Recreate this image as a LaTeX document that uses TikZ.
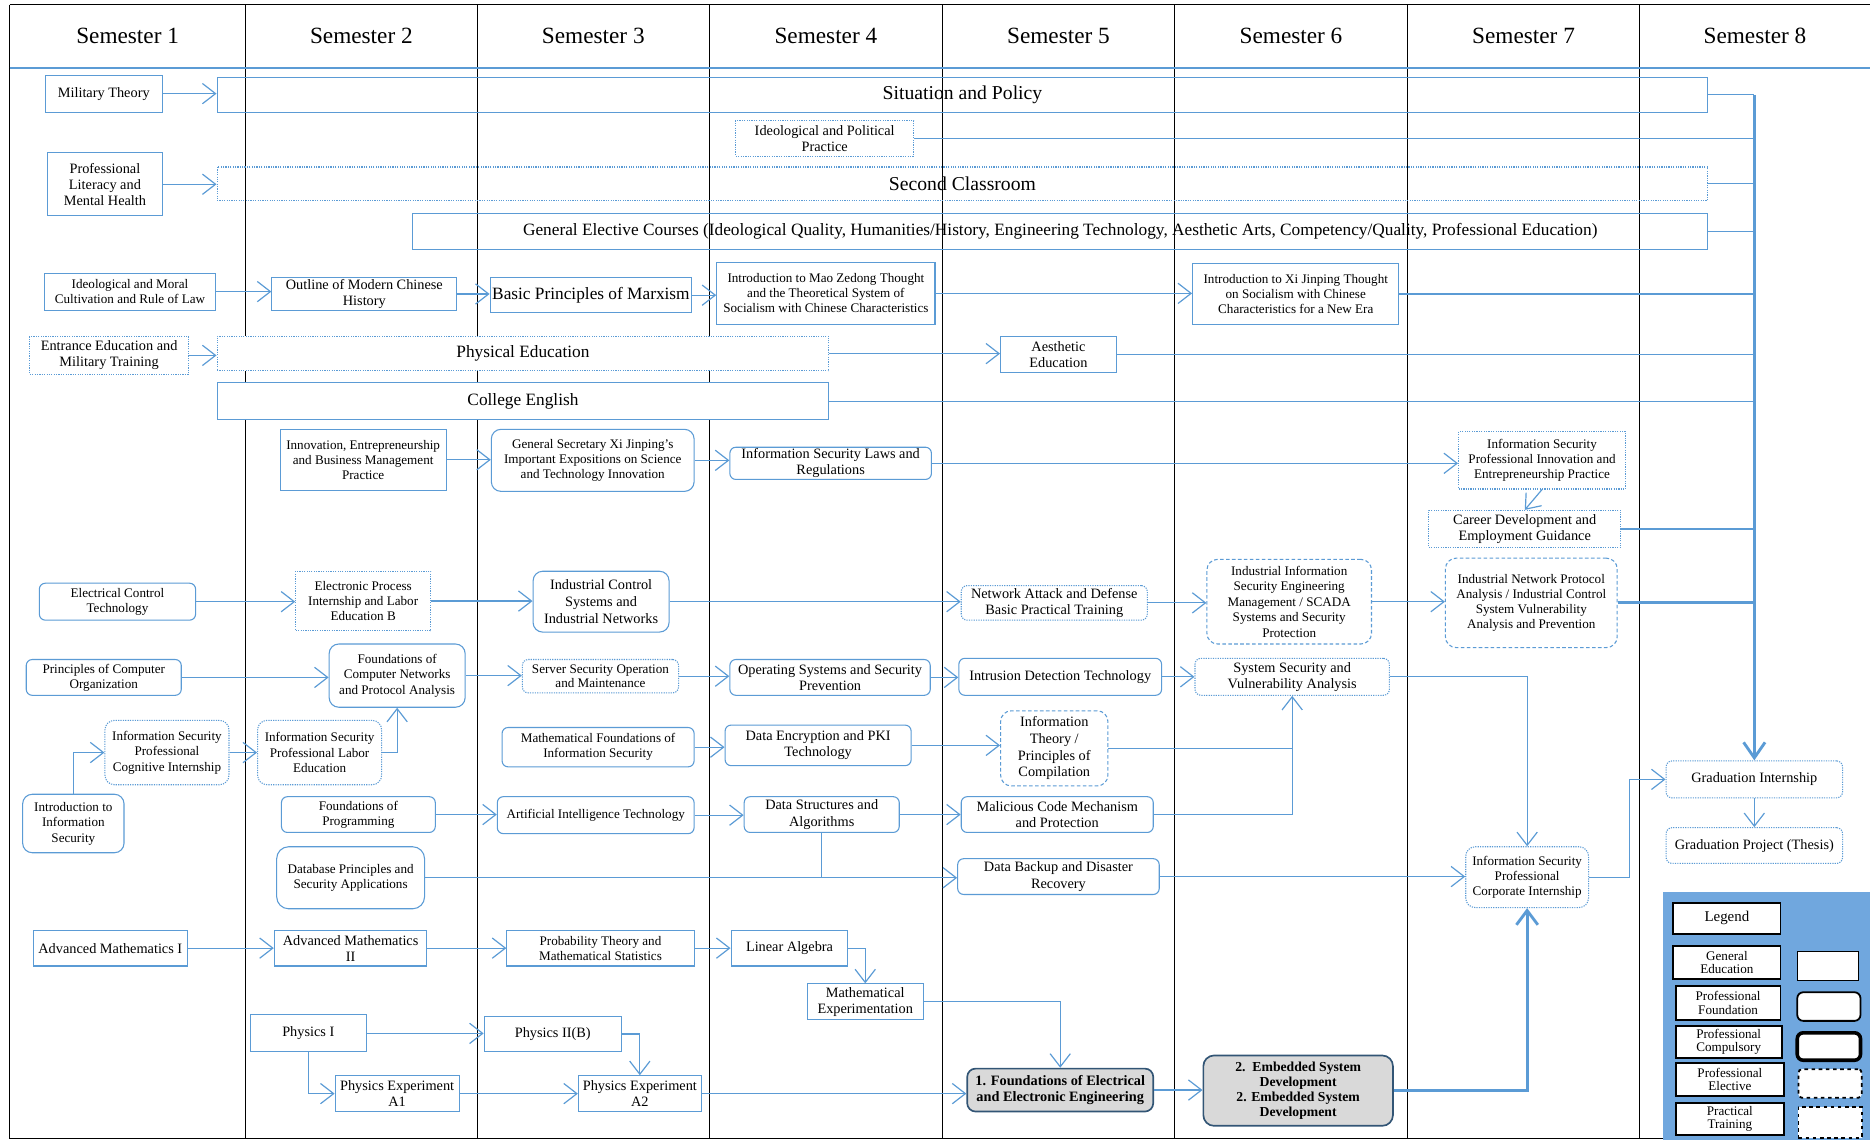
\documentclass[tikz,border=0pt]{standalone}
\usepackage{fontspec}
\setmainfont{Liberation Serif}
\usepackage{tikz}
\usetikzlibrary{arrows.meta}
\definecolor{lineblue}{RGB}{91,155,213}
\definecolor{legblue}{RGB}{112,167,222}
\definecolor{compgray}{RGB}{217,217,217}
\tikzstyle{plan}=[x=1pt, y=-1pt, font=\fontsize{11}{12.5}\selectfont]
\tikzstyle{gen}=[rectangle, draw=lineblue, line width=0.9pt, fill=white, align=center, inner sep=1pt]
\tikzstyle{found}=[gen, rounded corners=5pt]
\tikzstyle{comp}=[found, draw=lineblue!55!black, line width=1.4pt, fill=compgray, rounded corners=7pt]
\tikzstyle{elec}=[found, dash pattern=on 3pt off 2pt, rounded corners=9pt]
\tikzstyle{prac}=[gen, dash pattern=on 1pt off 1pt]
\tikzstyle{pracr}=[found, dash pattern=on 1pt off 1pt]
\tikzstyle{mid}=[font=\fontsize{12}{13.5}\selectfont]
\tikzstyle{wide}=[font=\fontsize{14.5}{16}\selectfont]
\tikzstyle{huge}=[font=\fontsize{16.5}{18}\selectfont]
\tikzstyle{sem}=[font=\fontsize{19.5}{22}\selectfont]
\tikzstyle{flow}=[draw=lineblue, line width=1pt, -{Straight Barb[length=11pt,width=17pt]}]
\tikzstyle{feed}=[draw=lineblue, line width=1pt]
\tikzstyle{trunk}=[draw=lineblue, line width=2.4pt]
\tikzstyle{leg}=[rectangle, draw=black, line width=1.5pt, fill=white, align=center, inner sep=1pt, font=\fontsize{11}{11}\selectfont]
\tikzstyle{swatch}=[rectangle, draw=black, fill=white, minimum width=53pt, minimum height=24pt]

\begin{document}
\begin{tikzpicture}[plan]
\useasboundingbox (0,0) rectangle (1568,956);

% frame and semester columns
\draw[black, line width=0.8pt] (8,4) -- (1568,4);
\draw[black, line width=0.8pt] (8,4) -- (8,955) -- (1394,955);
\draw[black, line width=0.8pt] (206,4) -- (206,955);
\draw[black, line width=0.8pt] (400,4) -- (400,955);
\draw[black, line width=0.8pt] (595,4) -- (595,955);
\draw[black, line width=0.8pt] (790,4) -- (790,955);
\draw[black, line width=0.8pt] (985,4) -- (985,955);
\draw[black, line width=0.8pt] (1180,4) -- (1180,955);
\draw[black, line width=0.8pt] (1375,4) -- (1375,955);
\draw[lineblue, line width=0.9pt] (8,57) -- (1568,57);

\draw (107,30) node[sem] (sem1) {Semester 1};
\draw (303,30) node[sem] (sem2) {Semester 2};
\draw (497.5,30) node[sem] (sem3) {Semester 3};
\draw (692.5,30) node[sem] (sem4) {Semester 4};
\draw (887.5,30) node[sem] (sem5) {Semester 5};
\draw (1082.5,30) node[sem] (sem6) {Semester 6};
\draw (1277.5,30) node[sem] (sem7) {Semester 7};
\draw (1471.5,30) node[sem] (sem8) {Semester 8};

% general education
\draw (87,78.5) node[gen, mid, minimum width=98pt, minimum height=31pt] (milt) {Military Theory};
\draw (807,79.5) node[gen, huge, fill=none, minimum width=1250pt, minimum height=29pt] (sitpol) {Situation and Policy};
\draw (691.5,116) node[prac, mid, minimum width=149pt, minimum height=30pt] (ideopp) {Ideological and Political\\Practice};
\draw (88,154.5) node[gen, mid, minimum width=96pt, minimum height=53pt] (proflit) {Professional\\Literacy and\\Mental Health};
\draw (807,154) node[prac, huge, fill=none, minimum width=1250pt, minimum height=28pt] (seccls) {Second Classroom};
\draw (889,194) node[gen, wide, fill=none, minimum width=1086pt, minimum height=30pt] (genel) {General Elective Courses (Ideological Quality, Humanities/History, Engineering Technology, Aesthetic Arts, Competency/Quality, Professional Education)};
\draw (109,244.5) node[gen, minimum width=144pt, minimum height=31pt] (ideomor) {Ideological and Moral\\Cultivation and Rule of Law};
\draw (305.5,246.5) node[gen, mid, minimum width=155pt, minimum height=27pt] (outline) {Outline of Modern Chinese\\History};
\draw (495.5,247.5) node[gen, wide, minimum width=169pt, minimum height=29pt] (marx) {Basic Principles of Marxism};
\draw (692.5,246) node[gen, minimum width=183pt, minimum height=52pt] (mao) {Introduction to Mao Zedong Thought\\and the Theoretical System of\\Socialism with Chinese Characteristics};
\draw (1086.5,246.5) node[gen, minimum width=173pt, minimum height=51pt] (xi) {Introduction to Xi Jinping Thought\\on Socialism with Chinese\\Characteristics for a New Era};
\draw (91.5,298) node[prac, mid, minimum width=133pt, minimum height=32pt] (entr) {Entrance Education and\\Military Training};
\draw (438.5,296.5) node[prac, wide, minimum width=513pt, minimum height=29pt] (phyed) {Physical Education};
\draw (887.5,297) node[gen, mid, minimum width=97pt, minimum height=30pt] (aesth) {Aesthetic\\Education};
\draw (438.5,336.5) node[gen, wide, minimum width=513pt, minimum height=31pt] (coleng) {College English};
\draw (304.5,385.5) node[gen, minimum width=139pt, minimum height=51pt] (innov) {Innovation, Entrepreneurship\\and Business Management\\Practice};

% professional courses
\draw (497,386) node[found, minimum width=170pt, minimum height=52pt, rounded corners=8pt] (gensec) {General Secretary Xi Jinping's\\Important Expositions on Science\\and Technology Innovation};
\draw (696.5,388.5) node[found, mid, minimum width=169pt, minimum height=27pt] (islaw) {Information Security Laws and\\Regulations};
\draw (1293,386) node[prac, minimum width=140pt, minimum height=48pt] (isinnov) {Information Security\\Professional Innovation and\\Entrepreneurship Practice};
\draw (1278.5,443.5) node[prac, mid, minimum width=161pt, minimum height=31pt] (career) {Career Development and\\Employment Guidance};
\draw (98.5,504.5) node[found, minimum width=131pt, minimum height=31pt] (elecctl) {Electrical Control\\Technology};
\draw (304.5,504) node[prac, minimum width=113pt, minimum height=50pt] (elecproc) {Electronic Process\\Internship and Labor\\Education B};
\draw (504,504.5) node[found, font=\fontsize{12}{14.5}\selectfont, minimum width=114pt, minimum height=51pt, rounded corners=8pt] (indctl) {Industrial Control\\Systems and\\Industrial Networks};
\draw (884,505.5) node[pracr, mid, minimum width=156pt, minimum height=29pt] (netatk) {Network Attack and Defense\\Basic Practical Training};
\draw (1081,504.5) node[elec, font=\fontsize{11}{13}\selectfont, minimum width=138pt, minimum height=71pt] (indinfo) {Industrial Information\\Security Engineering\\Management / SCADA\\Systems and Security\\Protection};
\draw (1284,505.5) node[elec, minimum width=144pt, minimum height=75pt] (indnet) {Industrial Network Protocol\\Analysis / Industrial Control\\System Vulnerability\\Analysis and Prevention};
\draw (87,568) node[found, minimum width=130pt, minimum height=30pt] (comporg) {Principles of Computer\\Organization};
\draw (333,566.5) node[found, font=\fontsize{11}{13}\selectfont, minimum width=114pt, minimum height=53pt, rounded corners=8pt] (netfound) {Foundations of\\Computer Networks\\and Protocol Analysis};
\draw (503.5,567) node[pracr, minimum width=131pt, minimum height=28pt] (server) {Server Security Operation\\and Maintenance};
\draw (696,568) node[found, mid, minimum width=168pt, minimum height=30pt] (os) {Operating Systems and Security\\Prevention};
\draw (889,567.5) node[found, mid, minimum width=170pt, minimum height=31pt] (ids) {Intrusion Detection Technology};
\draw (1083.5,567.5) node[pracr, mid, minimum width=163pt, minimum height=31pt] (syssec) {System Security and\\Vulnerability Analysis};
\draw (140,631) node[pracr, font=\fontsize{11}{13}\selectfont, minimum width=104pt, minimum height=54pt, rounded corners=8pt] (cogint) {Information Security\\Professional\\Cognitive Internship};
\draw (268,631) node[pracr, font=\fontsize{11}{13}\selectfont, minimum width=104pt, minimum height=54pt, rounded corners=8pt] (labor) {Information Security\\Professional Labor\\Education};
\draw (501.5,626.5) node[found, minimum width=161pt, minimum height=33pt] (mathfound) {Mathematical Foundations of\\Information Security};
\draw (686,625) node[found, mid, minimum width=156pt, minimum height=34pt] (crypto) {Data Encryption and PKI\\Technology};
\draw (884,627.5) node[elec, font=\fontsize{12}{14}\selectfont, minimum width=90pt, minimum height=63pt] (infoth) {Information\\Theory /\\Principles of\\Compilation};
\draw (61.5,690.5) node[found, font=\fontsize{11}{13}\selectfont, minimum width=85pt, minimum height=49pt, rounded corners=8pt] (introis) {Introduction to\\Information\\Security};
\draw (300.5,683) node[found, minimum width=129pt, minimum height=30pt] (prog) {Foundations of\\Programming};
\draw (499.5,683.5) node[found, minimum width=165pt, minimum height=31pt] (ai) {Artificial Intelligence Technology};
\draw (689,683) node[found, mid, minimum width=130pt, minimum height=30pt] (dsa) {Data Structures and\\Algorithms};
\draw (886.5,683) node[found, mid, minimum width=161pt, minimum height=30pt] (malcode) {Malicious Code Mechanism\\and Protection};
\draw (1471,653.5) node[pracr, mid, minimum width=148pt, minimum height=31pt] (gradint) {Graduation Internship};
\draw (294,736) node[found, minimum width=124pt, minimum height=52pt, rounded corners=10pt] (db) {Database Principles and\\Security Applications};
\draw (887.5,735) node[found, mid, minimum width=169pt, minimum height=30pt] (backup) {Data Backup and Disaster\\Recovery};
\draw (1280.5,735.5) node[pracr, minimum width=103pt, minimum height=51pt, rounded corners=8pt] (corpint) {Information Security\\Professional\\Corporate Internship};
\draw (1471,709) node[pracr, mid, minimum width=148pt, minimum height=30pt] (gradproj) {Graduation Project (Thesis)};

% mathematics and physics
\draw (92.5,795) node[gen, mid, minimum width=129pt, minimum height=30pt] (am1) {Advanced Mathematics I};
\draw (294,795) node[gen, mid, minimum width=128pt, minimum height=30pt] (am2) {Advanced Mathematics\\II};
\draw (503.5,795) node[gen, minimum width=157pt, minimum height=30pt] (prob) {Probability Theory and\\Mathematical Statistics};
\draw (662,795) node[gen, mid, minimum width=98pt, minimum height=30pt] (linalg) {Linear Algebra};
\draw (725.5,840) node[gen, mid, minimum width=97pt, minimum height=30pt] (mathexp) {Mathematical\\Experimentation};
\draw (258.5,866.5) node[gen, mid, minimum width=97pt, minimum height=31pt] (phys1) {Physics I};
\draw (463.5,867) node[gen, mid, minimum width=115pt, minimum height=30pt] (phys2) {Physics II(B)};
\draw (333,917) node[gen, mid, minimum width=104pt, minimum height=30pt] (pexa1) {Physics Experiment\\A1};
\draw (536.5,917) node[gen, mid, minimum width=103pt, minimum height=30pt] (pexa2) {Physics Experiment\\A2};
\draw (889,914) node[comp, font=\fontsize{12}{13.5}\selectfont\bfseries, minimum width=156pt, minimum height=36pt] (eefound) {1. Foundations of Electrical\\and Electronic Engineering};
\draw (1088.5,914.5) node[comp, font=\fontsize{11.5}{12.5}\selectfont\bfseries, minimum width=159pt, minimum height=59pt, rounded corners=9pt] (embed) {2.~~Embedded System\\Development\\2. Embedded System\\Development};

% arrows
\draw[flow] (milt.east) -- (milt.east -| sitpol.west);
\draw[flow] (proflit.east) -- (proflit.east -| seccls.west);
\draw[flow] (ideomor.east) -- (ideomor.east -| outline.west);
\draw[flow] (outline.east) -- (outline.east -| marx.west);
\draw[flow] (marx.east) -- (marx.east -| mao.west);
\draw[flow] (mao.east) -- (mao.east -| xi.west);
\draw[flow] (entr.east) -- (entr.east -| phyed.west);
\draw[flow] (phyed.east) -- (phyed.east -| aesth.west);
\draw[flow] (innov.east) -- (innov.east -| gensec.west);
\draw[flow] (gensec.east) -- (gensec.east -| islaw.west);
\draw[flow] (islaw.east) -- (islaw.east -| isinnov.west);
\draw[flow] (isinnov.south) -- (career.north);
\draw[flow] (elecctl.east) -- (elecctl.east -| elecproc.west);
\draw[flow] (elecproc.east) -- (elecproc.east -| indctl.west);
\draw[flow] (indctl.east) -- (indctl.east -| netatk.west);
\draw[flow] (netatk.east) -- (netatk.east -| indinfo.west);
\draw[flow] (indinfo.east) -- (indinfo.east -| indnet.west);
\draw[flow] (comporg.east) -- (comporg.east -| netfound.west);
\draw[flow] (netfound.east) -- (netfound.east -| server.west);
\draw[flow] (server.east) -- (server.east -| os.west);
\draw[flow] (os.east) -- (os.east -| ids.west);
\draw[flow] (ids.east) -- (ids.east -| syssec.west);
\draw[flow] (syssec.east) -| (corpint.north);
\draw[flow] (introis.north) |- (cogint.west);
\draw[flow] (cogint.east) -- (cogint.east -| labor.west);
\draw[flow] (labor.east) -| (netfound.south);
\draw[flow] (mathfound.east) -- (mathfound.east -| crypto.west);
\draw[flow] (crypto.east) -- (crypto.east -| infoth.west);
\draw[flow] (infoth.east) -| (syssec.south);
\draw[feed] (malcode.east) -| (syssec.south |- infoth.east);
\draw[flow] (prog.east) -- (prog.east -| ai.west);
\draw[flow] (ai.east) -- (ai.east -| dsa.west);
\draw[flow] (dsa.east) -- (dsa.east -| malcode.west);
\draw[feed] (dsa.south) -- (dsa.south |- db.east);
\draw[flow] (db.east) -- (db.east -| backup.west);
\draw[flow] (backup.east) -- (backup.east -| corpint.west);
\draw[flow] (corpint.east) -- ++(34,0) |- (gradint.west);
\draw[flow] (gradint.south) -- (gradproj.north);
\draw[flow] (am1.east) -- (am1.east -| am2.west);
\draw[flow] (am2.east) -- (am2.east -| prob.west);
\draw[flow] (prob.east) -- (prob.east -| linalg.west);
\draw[flow] (linalg.east) -| (mathexp.north);
\draw[flow] (mathexp.east) -| (eefound.north);
\draw[flow] (phys1.east) -- (phys1.east -| phys2.west);
\draw[flow] (phys1.south) |- (pexa1.west);
\draw[flow] (phys2.east) -| (pexa2.north);
\draw[flow] (pexa1.east) -- (pexa1.east -| pexa2.west);
\draw[flow] (pexa2.east) -- (pexa2.east -| eefound.west);
\draw[flow] (eefound.east) -- (eefound.east -| embed.west);
\draw[trunk, -{Straight Barb[length=12pt,width=18pt]}] (embed.east) -| (corpint.south);

% lines into graduation internship
\coordinate (trk) at (1471,79.5);
\draw[feed] (sitpol.east) -- (trk);
\draw[feed] (ideopp.east) -- (ideopp.east -| trk);
\draw[feed] (seccls.east) -- (seccls.east -| trk);
\draw[feed] (genel.east) -- (genel.east -| trk);
\draw[feed] (xi.east) -- (xi.east -| trk);
\draw[feed] (aesth.east) -- (aesth.east -| trk);
\draw[feed] (coleng.east) -- (coleng.east -| trk);
\draw[feed] (career.east) -- (career.east -| trk);
\draw[trunk] (indnet.east) -- (indnet.east -| trk);
\draw[trunk, -{Straight Barb[length=13pt,width=18pt]}] (trk) -- (gradint.north);

% legend
\fill[legblue] (1394,748) rectangle (1568,956);
\draw (1448,770) node[leg, font=\fontsize{12.5}{13}\selectfont, minimum width=90pt, minimum height=26pt] (lgd) {Legend};
\draw (1448,807) node[leg, minimum width=90pt, minimum height=28pt] (lgen) {General\\Education};
\draw (1449,841) node[leg, minimum width=88pt, minimum height=28pt] (lfnd) {Professional\\Foundation};
\draw (1449.5,873.5) node[leg, minimum width=89pt, minimum height=27pt] (lcmp) {Professional\\Compulsory};
\draw (1450.5,905) node[leg, minimum width=91pt, minimum height=28pt] (lelc) {Professional\\Elective};
\draw (1450.5,938.5) node[leg, minimum width=91pt, minimum height=27pt] (lprc) {Practical\\Training};
\draw (1532.5,810) node[swatch, line width=1pt, minimum width=51pt] (sgen) {};
\draw (1533.5,844) node[swatch, rounded corners=5pt, line width=1.5pt] (sfnd) {};
\draw (1533.5,877.5) node[swatch, rounded corners=5pt, line width=3pt, minimum height=23pt] (scmp) {};
\draw (1534.5,908.5) node[swatch, rounded corners=3pt, line width=1.5pt, dashed] (selc) {};
\draw (1534.5,941) node[swatch, line width=1.5pt, dashed, minimum height=26pt] (sprc) {};
\end{tikzpicture}
\end{document}
